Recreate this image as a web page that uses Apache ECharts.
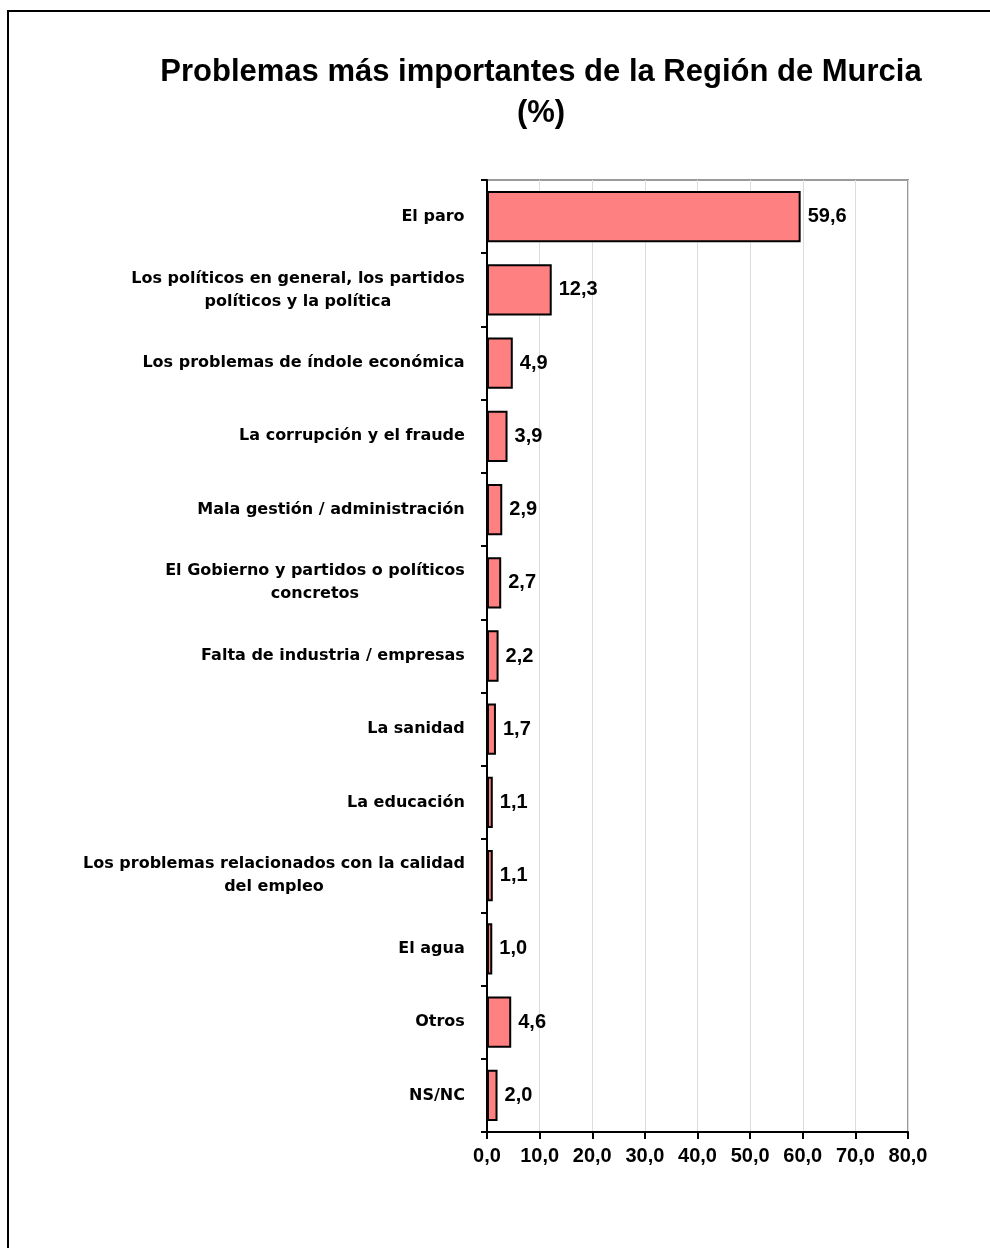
<!DOCTYPE html>
<html>
<head>
<meta charset="utf-8">
<script src="https://cdn.jsdelivr.net/npm/echarts@6/dist/echarts.min.js"></script>
<style>
  html, body { margin: 0; padding: 0; background: #fff; }
  #chart { width: 990px; height: 1248px; }
</style>
</head>
<body>
<div id="chart"></div>
<script>
// categorías (de arriba a abajo)
const categories = [
  'El paro',
  'Los políticos en general, los partidos\npolíticos y la política',
  'Los problemas de índole económica',
  'La corrupción y el fraude',
  'Mala gestión / administración',
  'El Gobierno y partidos o políticos\nconcretos',
  'Falta de industria / empresas',
  'La sanidad',
  'La educación',
  'Los problemas relacionados con la calidad\ndel empleo',
  'El agua',
  'Otros',
  'NS/NC'
];
const values = [59.6, 12.3, 4.9, 3.9, 2.9, 2.7, 2.2, 1.7, 1.1, 1.1, 1.0, 4.6, 2.0];
const xTicks = [0, 10, 20, 30, 40, 50, 60, 70, 80];

const labelSize = 16;
const fmt = v => v.toFixed(1).replace('.', ',');

// ancho de cada etiqueta para centrar las líneas dentro del bloque
const ctx = document.createElement('canvas').getContext('2d');
ctx.font = 'bold ' + labelSize + 'px "DejaVu Sans"';
const rich = {};
categories.forEach((c, i) => {
  const w = Math.max(...c.split('\n').map(s => ctx.measureText(s).width));
  rich['l' + i] = {
    width: Math.ceil(w), align: 'center',
    fontFamily: 'DejaVu Sans', fontWeight: 'bold', fontSize: labelSize,
    color: '#000', lineHeight: 23
  };
});

const chart = echarts.init(document.getElementById('chart'));
chart.setOption({
  backgroundColor: '#fff',
  animation: false,
  graphic: [{
    type: 'rect',
    shape: { x: 8, y: 11, width: 1100, height: 1400 },
    style: { fill: 'none', stroke: '#000', lineWidth: 2 },
    z: 100
  }],
  title: {
    text: 'Problemas más importantes de la Región de Murcia\n(%)',
    left: 536,
    top: 47,
    textAlign: 'center',
    textStyle: {
      fontFamily: '"Liberation Sans", Arial',
      fontWeight: 'bold',
      fontSize: 31,
      lineHeight: 41,
      color: '#000'
    }
  },
  grid: {
    left: 487,
    right: 82,
    top: 180,
    bottom: 116,
    show: true,
    borderColor: '#9a9a9a',
    borderWidth: 2
  },
  xAxis: {
    type: 'value',
    min: xTicks[0],
    max: xTicks[xTicks.length - 1],
    interval: 10,
    axisLine: { show: true, lineStyle: { color: '#000', width: 2 } },
    axisTick: { show: true, length: 7, lineStyle: { color: '#000', width: 2 } },
    axisLabel: {
      formatter: fmt,
      margin: 14,
      fontFamily: '"Liberation Sans", Arial',
      fontWeight: 'bold',
      fontSize: 20,
      color: '#000'
    },
    splitLine: { show: true, lineStyle: { color: '#dcdcdc', width: 1 } }
  },
  yAxis: {
    type: 'category',
    data: categories,
    inverse: true,
    axisLine: { show: true, lineStyle: { color: '#000', width: 2 } },
    axisTick: { show: true, length: 6, lineStyle: { color: '#000', width: 2 } },
    axisLabel: {
      margin: 22,
      formatter: (v, i) => v.split('\n').map(s => '{l' + i + '|' + s + '}').join('\n'),
      rich: rich
    }
  },
  series: [{
    type: 'bar',
    data: values,
    barWidth: '70%',
    itemStyle: { color: '#ff8080', borderColor: '#000', borderWidth: 2 },
    label: {
      show: true,
      position: 'right',
      distance: 7,
      formatter: p => fmt(p.value),
      fontFamily: '"Liberation Sans", Arial',
      fontWeight: 'bold',
      fontSize: 20,
      color: '#000'
    }
  }]
});
</script>
</body>
</html>
